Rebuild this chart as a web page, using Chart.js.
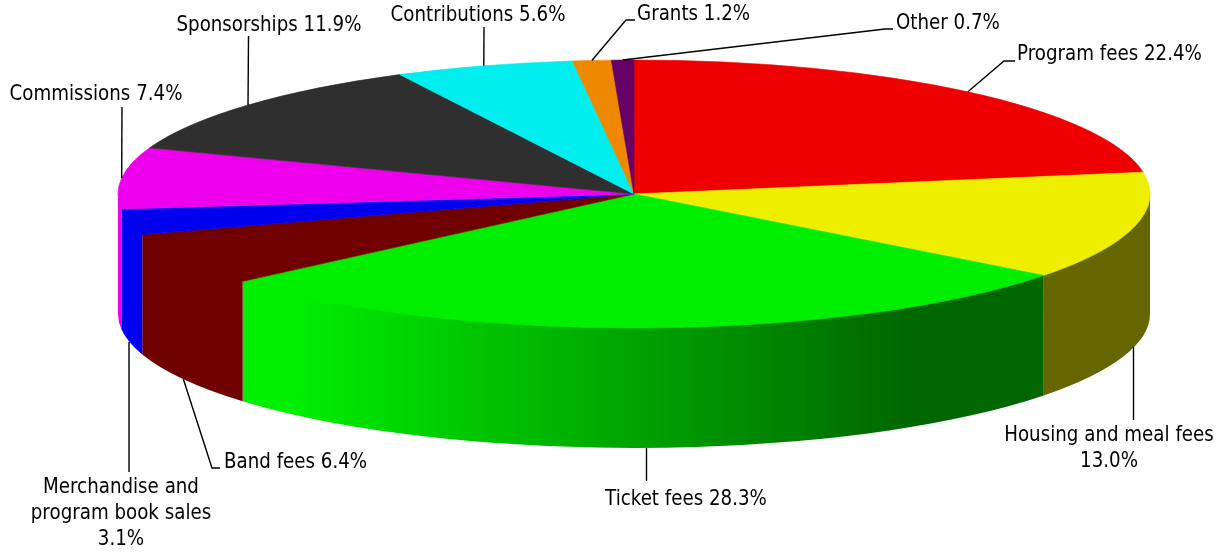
<!DOCTYPE html>
<html>
<head>
<meta charset="utf-8">
<style>html,body{margin:0;padding:0;background:#fff}canvas{display:block}</style>
<script src="https://cdn.jsdelivr.net/npm/chart.js@4"></script>
</head>
<body>
<div style="width:1225px;height:552px"><canvas id="c" width="1225" height="552"></canvas></div>
<script>
const categories = ['Program fees','Housing and meal fees','Ticket fees','Band fees','Merchandise and program book sales','Commissions','Sponsorships','Contributions','Grants','Other'];
const values = [22.4,13.0,28.3,6.4,3.1,7.4,11.9,5.6,1.2,0.7];
const topColors = ['#ee0000','#eeee00','#00ee00','#700000','#0000ee','#ee00ee','#2f2f2f','#00eeee','#ee8800','#660066'];
const sideColors = ['#660000','#666600',[[0,'#00ee00'],[0.064,'#00ee00'],[0.835,'#006600'],[1,'#006600']],'#700000','#0000ee','#ee00ee','#2f2f2f','#00eeee','#ee8800','#660066'];
const labelLines = [['Program fees 22.4%'],['Housing and meal fees','13.0%'],['Ticket fees 28.3%'],['Band fees 6.4%'],['Merchandise and','program book sales','3.1%'],['Commissions 7.4%'],['Sponsorships 11.9%'],['Contributions 5.6%'],['Grants 1.2%'],['Other 0.7%']];
const SQUASH = 134/516, DEPTH = 120, FONT = '20.5px "DejaVu Sans"', TEXT_X = 0.89;
const leaders = [
 {knee:[1004,61],end:[1015,61],text:[1017,55],align:'left'},
 {start:[1133.5,347],end:[1133.5,420],text:[1109,436],align:'center'},
 {start:[646.5,448],end:[646.5,481],text:[686,500],align:'center'},
 {knee:[212,468],end:[220,468],text:[224,463],align:'left'},
 {start:[129,342],end:[129,472],text:[121,488],align:'center'},
 {end:[122,107],text:[96,95],align:'center'},
 {end:[248.5,36],text:[269,26],align:'center'},
 {end:[484,27],text:[478,16],align:'center'},
 {knee:[626,20],end:[635,20],text:[637,15],align:'left'},
 {knee:[885,29],end:[893,29],text:[896,24],align:'left'}
];
function project(el,a,dy){
  return [el.x+el.outerRadius*Math.cos(a), el.y+el.outerRadius*SQUASH*Math.sin(a)+(dy||0)];
}
const pie3d = {
  id:'pie3d',
  beforeDatasetsDraw(chart){
    const ctx=chart.ctx, arcs=chart.getDatasetMeta(0).data;
    arcs.forEach((el,i)=>{
      const rx=el.outerRadius, ry=rx*SQUASH;
      const lo=Math.max(el.startAngle,0), hi=Math.min(el.endAngle,Math.PI);
      if(hi<=lo) return;
      ctx.beginPath();
      ctx.ellipse(el.x,el.y-2,rx,ry,0,lo,hi);
      ctx.ellipse(el.x,el.y+DEPTH,rx,ry,0,hi,lo,true);
      ctx.closePath();
      const c=sideColors[i];
      if(Array.isArray(c)){
        const p0=project(el,lo),p1=project(el,hi);
        const g=ctx.createLinearGradient(p1[0],0,p0[0],0);
        c.forEach(s=>g.addColorStop(s[0],s[1]));
        ctx.fillStyle=g;
      } else ctx.fillStyle=c;
      ctx.fill();
    });
    ctx.save();
    const cx=arcs[0].x, cy=arcs[0].y;
    ctx.translate(cx,cy); ctx.scale(1,SQUASH); ctx.translate(-cx,-cy);
  },
  afterDatasetsDraw(chart){
    const ctx=chart.ctx, arcs=chart.getDatasetMeta(0).data;
    ctx.restore();
    ctx.save();
    ctx.strokeStyle='#000'; ctx.lineWidth=1.4; ctx.fillStyle='#000';
    ctx.font=FONT; ctx.textBaseline='middle';
    arcs.forEach((el,i)=>{
      const mid=(el.startAngle+el.endAngle)/2;
      const front=Math.sin(mid)>0;
      const L=leaders[i], p=L.start||project(el,mid,front?DEPTH:0);
      ctx.beginPath(); ctx.moveTo(p[0],p[1]);
      if(L.knee) ctx.lineTo(L.knee[0],L.knee[1]);
      ctx.lineTo(L.end[0],L.end[1]); ctx.stroke();
      ctx.textAlign=L.align;
      labelLines[i].forEach((t,k)=>{
        ctx.save();
        ctx.translate(L.text[0],L.text[1]+k*26);
        ctx.scale(TEXT_X,1);
        ctx.fillText(t,0,0);
        ctx.restore();
      });
    });
    ctx.restore();
  }
};
new Chart(document.getElementById('c'),{
  type:'pie',
  data:{labels:categories,datasets:[{data:values,backgroundColor:topColors,borderColor:topColors,borderWidth:1}]},
  options:{responsive:false,animation:false,radius:516,
    layout:{padding:{left:43,bottom:164}},
    plugins:{legend:{display:false},tooltip:{enabled:false}}},
  plugins:[pie3d]
});
</script>
</body>
</html>
